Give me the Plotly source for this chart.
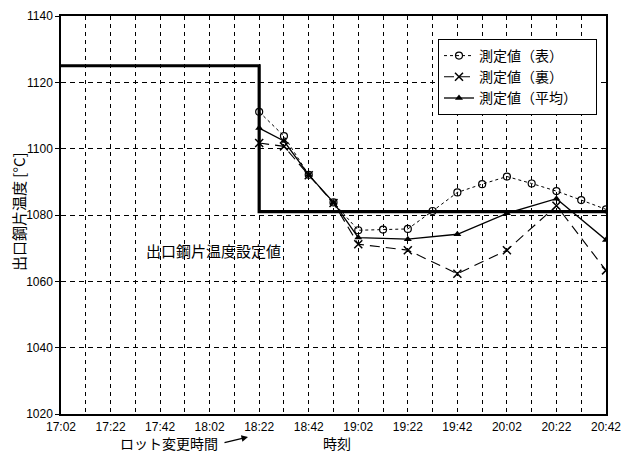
import plotly.graph_objects as go

DAY = "2000-01-01 "

# Tick labels (time of day)
tick_labels = ["17:02", "17:22", "17:42", "18:02", "18:22", "18:42",
               "19:02", "19:22", "19:42", "20:02", "20:22", "20:42"]

# Set-point (出口鋼片温度設定値)
setpoint_times = ["17:02", "18:22", "18:22", "20:42"]
setpoint_values = [1125, 1125, 1081, 1081]

# 測定値(表)
front_times = ["18:22", "18:32", "18:42", "18:52", "19:02", "19:12", "19:22", "19:32",
               "19:42", "19:52", "20:02", "20:12", "20:22", "20:32", "20:42"]
front_values = [1111.1, 1103.8, 1092.1, 1083.8, 1075.4, 1075.6, 1075.8, 1081.2,
                1086.8, 1089.3, 1091.6, 1089.5, 1087.2, 1084.5, 1081.7]

# 測定値(裏)
back_times = ["18:22", "18:32", "18:42", "18:52", "19:02", "19:22", "19:42", "20:02", "20:22", "20:42"]
back_values = [1101.7, 1100.7, 1092.0, 1083.6, 1071.2, 1069.4, 1062.3, 1069.4, 1082.8, 1063.3]

# 測定値(平均)
avg_times = ["18:22", "18:32", "18:42", "18:52", "19:02", "19:22", "19:42", "20:02", "20:22", "20:42"]
avg_values = [1106.2, 1102.3, 1092.1, 1083.8, 1073.2, 1072.7, 1074.2, 1080.5, 1084.9, 1072.5]

y_range = [1020, 1140]


def t(lst):
    return [DAY + s for s in lst]


CJK = "Noto Sans CJK JP"
NUM = "Liberation Sans, Arial"

W, H = 622, 452
L, T, R, B = 61, 16, 16, 38
PW, PH = W - L - R, H - T - B
BOTTOM = T + PH


def px(xw):
    return (xw - L) / PW


def py(yw):
    return (BOTTOM - yw) / PH


fig = go.Figure()

fig.add_trace(go.Scatter(
    x=t(setpoint_times), y=setpoint_values, mode="lines",
    line=dict(color="black", width=3.2), showlegend=False, hoverinfo="skip"))

fig.add_trace(go.Scatter(
    x=t(front_times), y=front_values, mode="lines+markers", name="測定値（表）",
    line=dict(color="black", width=1, dash="dot"),
    marker=dict(symbol="circle-open", size=7, color="black", line=dict(width=1.2))))

fig.add_trace(go.Scatter(
    x=t(back_times), y=back_values, mode="lines+markers", name="測定値（裏）",
    line=dict(color="black", width=1.1, dash="10px,6px"),
    marker=dict(symbol="x-thin-open", size=8, color="black", line=dict(width=1.5, color="black"))))

fig.add_trace(go.Scatter(
    x=t(avg_times), y=avg_values, mode="lines+markers", name="測定値（平均）\u2002\u2002",
    line=dict(color="black", width=1.3),
    marker=dict(symbol="triangle-up", size=7, color="black")))

fig.update_xaxes(
    type="date", range=[DAY + tick_labels[0], DAY + tick_labels[-1]],
    tickvals=t(tick_labels), ticktext=tick_labels,
    showgrid=True, gridcolor="black", gridwidth=1, griddash="4px,4px",
    minor=dict(dtick=600000, tick0=DAY + "17:02", showgrid=True, gridcolor="black",
               gridwidth=1, griddash="4px,4px"),
    showline=True, linecolor="black", linewidth=1.5, mirror=True,
    ticks="", tickfont=dict(family=NUM, size=12, color="black"),
    ticklabelstandoff=1,
    ticklabeloverflow="allow", automargin=False,
    zeroline=False,
)

fig.update_yaxes(
    range=y_range, dtick=20, tick0=1020,
    showgrid=True, gridcolor="black", gridwidth=1, griddash="5px,4px",
    showline=True, linecolor="black", linewidth=1.5, mirror=True,
    ticks="outside", ticklen=4, tickcolor="black",
    tickfont=dict(family=NUM, size=12, color="black"),
    ticklabeloverflow="allow", automargin=False,
    zeroline=False,
)

ann_font = dict(family=CJK, size=15, color="black")
low_font = dict(family=CJK, size=14, color="black")

# y-axis title
fig.add_annotation(
    xref="paper", yref="paper", x=px(18), y=py(212), xanchor="center", yanchor="middle",
    text="出口鋼片温度 [°C]", textangle=-90, showarrow=False, font=ann_font)

fig.add_annotation(
    xref="paper", yref="paper", x=px(213), y=py(251), xanchor="center", yanchor="middle",
    text="出口鋼片温度設定値", showarrow=False, font=ann_font)

fig.add_annotation(
    xref="paper", yref="paper", x=px(337), y=py(442.5), xanchor="center", yanchor="middle",
    text="時刻", showarrow=False, font=low_font)

fig.add_annotation(
    xref="paper", yref="paper", x=px(169), y=py(442.5), xanchor="center", yanchor="middle",
    text="ロット変更時間", showarrow=False, font=low_font)

fig.add_annotation(
    xref="paper", yref="paper", x=px(248), y=py(437),
    ax=-25, ay=6, axref="pixel", ayref="pixel",
    text="", showarrow=True, arrowhead=2, arrowsize=1, arrowwidth=1.3, arrowcolor="black")

fig.update_layout(
    width=W, height=H,
    margin=dict(l=L, r=R, t=T, b=B, autoexpand=False),
    paper_bgcolor="white", plot_bgcolor="white",
    font=dict(family=CJK, color="black"),
    legend=dict(
        x=px(438), y=py(39), xanchor="left", yanchor="top",
        bgcolor="white", bordercolor="black", borderwidth=1,
        font=dict(family=CJK, size=14, color="black"),
        itemwidth=30, tracegroupgap=0,
    ),
)

fig.write_html(
    "out.html",
    config={"displayModeBar": False},
    post_script="document.body.style.margin='0';document.body.style.overflow='hidden';",
)
